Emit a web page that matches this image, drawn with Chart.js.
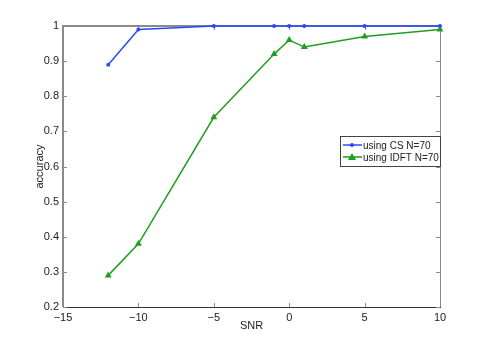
<!DOCTYPE html>
<html>
<head>
<meta charset="utf-8">
<script src="https://cdn.jsdelivr.net/npm/chart.js@4/dist/chart.umd.min.js"></script>
<style>
  html, body { margin: 0; padding: 0; background: #ffffff; }
  #wrap { width: 485px; height: 346px; position: relative; }
</style>
</head>
<body>
<div id="wrap"><canvas id="snrChart"></canvas></div>
<script>
const snrValues = [-12, -10, -5, -1, 0, 1, 5, 10];
const csAccuracy = [0.89, 0.99, 1, 1, 1, 1, 1, 1];
const idftAccuracy = [0.29, 0.38, 0.74, 0.92, 0.96, 0.94, 0.97, 0.99];
const seriesLabels = ["using CS N=70", "using IDFT N=70"];
const xTicks = [-15, -10, -5, 0, 5, 10];
const yTicks = [0.2, 0.3, 0.4, 0.5, 0.6, 0.7, 0.8, 0.9, 1];

const COLORS = {
  blue: "#2a48ff",
  green: "#1f9e1f",
  axis: "#8a8a8a",
  text: "#222222"
};
const FONT = "Liberation Sans, Arial, Helvetica, sans-serif";

function toPoints(values) {
  return snrValues.map(function (x, i) {
    return { x: x, y: values[i] };
  });
}

// box, inward ticks and axis titles go under the lines
const matlabFrame = {
  id: "matlabFrame",
  beforeDatasetsDraw: function (chart) {
    const ctx = chart.ctx;
    const area = chart.chartArea;
    const xs = chart.scales.x;
    const ys = chart.scales.y;

    ctx.save();
    ctx.strokeStyle = COLORS.axis;
    ctx.lineWidth = 2;
    ctx.beginPath();
    ctx.moveTo(area.left, area.bottom);
    ctx.lineTo(area.left, area.top);
    ctx.lineTo(area.right, area.top);
    ctx.stroke();
    ctx.lineWidth = 1;
    ctx.beginPath();
    ctx.moveTo(area.right + 0.5, area.top);
    ctx.lineTo(area.right + 0.5, area.bottom);
    ctx.stroke();
    ctx.strokeStyle = "#333333";
    ctx.beginPath();
    ctx.moveTo(area.left, area.bottom + 0.5);
    ctx.lineTo(area.right + 1, area.bottom + 0.5);
    ctx.stroke();

    ctx.strokeStyle = COLORS.axis;
    ctx.lineWidth = 1;
    ctx.beginPath();
    xTicks.forEach(function (v) {
      const px = Math.round(xs.getPixelForValue(v)) + 0.5;
      ctx.moveTo(px, area.bottom);
      ctx.lineTo(px, area.bottom - 4);
      ctx.moveTo(px, area.top);
      ctx.lineTo(px, area.top + 4);
    });
    yTicks.forEach(function (v) {
      const py = Math.round(ys.getPixelForValue(v)) + 0.5;
      ctx.moveTo(area.left, py);
      ctx.lineTo(area.left + 4, py);
      ctx.moveTo(area.right, py);
      ctx.lineTo(area.right - 4, py);
    });
    ctx.stroke();

    ctx.fillStyle = COLORS.text;
    ctx.font = "11px " + FONT;
    ctx.textAlign = "center";
    ctx.textBaseline = "middle";
    ctx.fillText("SNR", (area.left + area.right) / 2, 326);
    ctx.translate(40, (area.top + area.bottom) / 2);
    ctx.rotate(-Math.PI / 2);
    ctx.fillText("accuracy", 0, 0);
    ctx.restore();
  },
  afterDraw: function (chart) {
    const ctx = chart.ctx;
    ctx.save();
    const lx = 340, ly = 136, lw = 100, lh = 30;
    ctx.fillStyle = "#ffffff";
    ctx.fillRect(lx, ly, lw, lh);
    ctx.strokeStyle = "#444444";
    ctx.lineWidth = 1;
    ctx.strokeRect(lx + 0.5, ly + 0.5, lw, lh);
    const rows = [
      { label: seriesLabels[0], color: COLORS.blue, marker: "circle", y: ly + 9 },
      { label: seriesLabels[1], color: COLORS.green, marker: "triangle", y: ly + 21 }
    ];
    rows.forEach(function (row) {
      ctx.strokeStyle = row.color;
      ctx.fillStyle = row.color;
      ctx.lineWidth = 1.5;
      ctx.beginPath();
      ctx.moveTo(lx + 3, row.y);
      ctx.lineTo(lx + 22, row.y);
      ctx.stroke();
      ctx.beginPath();
      if (row.marker === "circle") {
        ctx.arc(lx + 12, row.y, 2, 0, Math.PI * 2);
      } else {
        ctx.moveTo(lx + 12, row.y - 4);
        ctx.lineTo(lx + 16, row.y + 3);
        ctx.lineTo(lx + 8, row.y + 3);
        ctx.closePath();
      }
      ctx.fill();
      ctx.fillStyle = COLORS.text;
      ctx.font = "10px " + FONT;
      ctx.textAlign = "left";
      ctx.textBaseline = "middle";
      ctx.fillText(row.label, lx + 23, row.y + 1);
    });
    ctx.restore();
  }
};

new Chart(document.getElementById("snrChart"), {
  type: "scatter",
  data: {
    datasets: [{
      label: seriesLabels[0],
      data: toPoints(csAccuracy),
      showLine: true,
      clip: false,
      borderColor: COLORS.blue,
      backgroundColor: COLORS.blue,
      borderWidth: 1.5,
      pointStyle: "circle",
      pointRadius: 2,
      pointBorderWidth: 0
    }, {
      label: seriesLabels[1],
      data: toPoints(idftAccuracy),
      showLine: true,
      clip: false,
      borderColor: COLORS.green,
      backgroundColor: COLORS.green,
      borderWidth: 1.5,
      pointStyle: "triangle",
      pointRadius: 4,
      pointBorderWidth: 0
    }]
  },
  options: {
    responsive: true,
    maintainAspectRatio: false,
    animation: false,
    events: [],
    layout: {
      padding: { left: 0, top: 26, right: 45, bottom: 0 }
    },
    plugins: {
      legend: { display: false },
      tooltip: { enabled: false }
    },
    scales: {
      x: {
        type: "linear",
        min: -15,
        max: 10,
        afterBuildTicks: function (scale) {
          scale.ticks = xTicks.map(function (v) { return { value: v }; });
        },
        afterFit: function (scale) {
          scale.height = 39;
        },
        ticks: {
          color: COLORS.text,
          font: { family: FONT, size: 11 },
          padding: 4,
          maxRotation: 0,
          callback: function (value) {
            return value < 0 ? "\u2212" + Math.abs(value) : String(value);
          }
        },
        grid: { display: false, drawTicks: false },
        border: { display: false }
      },
      y: {
        type: "linear",
        min: 0.2,
        max: 1,
        afterBuildTicks: function (scale) {
          scale.ticks = yTicks.map(function (v) { return { value: v }; });
        },
        afterFit: function (scale) {
          scale.width = 63;
        },
        ticks: {
          color: COLORS.text,
          font: { family: FONT, size: 11 },
          padding: 4,
          callback: function (value) {
            return String(Math.round(value * 10) / 10);
          }
        },
        grid: { display: false, drawTicks: false },
        border: { display: false }
      }
    }
  },
  plugins: [matlabFrame]
});
</script>
</body>
</html>
